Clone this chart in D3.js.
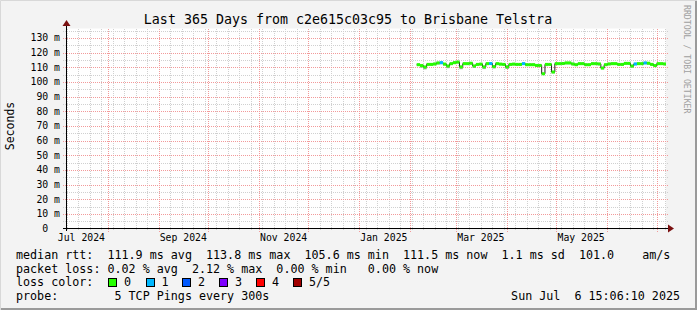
<!DOCTYPE html>
<html><head><meta charset="utf-8">
<script src="https://cdn.jsdelivr.net/npm/d3@7"></script>
<style>
html,body{margin:0;padding:0;background:#f3f3f3;}
text{font-family:"DejaVu Sans Mono",monospace;white-space:pre;}
</style></head>
<body><svg id="c" width="697" height="310"></svg>
<script>
// ---------- data ----------
const titleText = "Last 365 Days from c2e615c03c95 to Brisbane Telstra";
const rangeStart = Date.UTC(2024, 6, 6, 15, 6, 10);
const rangeEnd = Date.UTC(2025, 6, 6, 15, 6, 10);
const dataStart = Date.UTC(2025, 1, 5);
const stepDays = 2;
const medianRtt = [111.8,111.2,110.2,112.0,112.0,112.3,113.0,113.2,112.2,110.9,
 112.5,113.2,113.6,110.3,112.5,112.5,112.8,110.9,112.0,112.2,
 110.3,112.5,112.6,110.5,112.5,112.2,112.0,110.3,112.0,112.2,
 112.0,112.0,112.5,111.8,111.8,111.8,111.3,111.3,105.6,112.0,
 112.0,106.8,112.5,112.5,112.6,113.0,113.0,112.3,111.8,112.5,
 112.5,111.8,111.8,112.5,112.5,112.3,109.5,111.8,112.3,112.5,
 112.5,112.0,112.0,112.7,112.7,110.9,112.3,112.5,112.5,113.0,
 112.8,112.0,111.2,112.5,112.5,112.3];
const smokeLo = [110.9,109.8,108.6,111.1,111.2,111.4,112.0,112.1,111.2,109.4,
 111.6,112.2,112.6,108.7,111.6,111.6,111.9,109.6,111.1,111.3,
 108.8,111.6,111.6,109.2,111.6,111.3,111.1,108.9,111.1,111.3,
 111.1,111.1,111.6,110.9,110.9,110.9,110.4,110.3,104.8,110.8,
 111.1,105.9,111.6,111.6,111.7,112.1,112.1,111.4,110.9,111.6,
 111.6,110.9,110.9,111.6,111.6,111.4,108.7,110.9,111.4,111.6,
 111.6,111.1,111.1,111.8,111.8,109.8,111.4,111.6,111.6,112.1,
 111.9,111.1,110.2,111.6,111.6,111.4];
const smokeHi = [112.6,112.0,111.1,112.8,112.8,113.1,113.8,114.0,113.0,111.7,
 113.3,114.0,114.4,111.1,113.3,113.3,113.6,111.7,112.8,113.0,
 111.1,113.3,113.4,111.3,113.3,113.0,112.8,111.1,112.8,113.0,
 112.8,112.8,113.3,112.6,112.6,112.6,112.1,112.1,106.4,112.8,
 112.8,107.6,113.3,113.3,113.4,113.8,113.8,113.1,112.6,113.3,
 113.3,112.6,112.6,113.3,113.3,113.1,110.3,112.6,113.1,113.3,
 113.3,112.8,112.8,113.5,113.5,111.7,113.1,113.3,113.3,113.8,
 113.6,112.8,112.0,113.3,113.3,113.1];
const lossCount = [0,0,0,0,0,0,0,1,0,0, 0,0,0,0,0,0,0,0,0,0,
 0,0,1,0,0,0,0,0,0,0, 0,0,1,0,0,0,0,0,0,0,
 0,0,0,0,0,0,0,0,0,0, 0,0,0,0,0,0,0,0,0,0,
 0,0,0,0,0,0,1,0,0,1, 0,0,0,0,0,0];
const yTicks = [0,10,20,30,40,50,60,70,80,90,100,110,120,130];
const monthLabels = ["Jul 2024","Sep 2024","Nov 2024","Jan 2025","Mar 2025","May 2025"];
const lossLabels = ["0","1","2","3","4","5/5"];
const lossColors = ["#26ff00","#00b8ff","#0059ff","#7e00ff","#ff0000","#a10000"];
const legendRtt = "median rtt:  111.9 ms avg  113.8 ms max  105.6 ms min  111.5 ms now  1.1 ms sd  101.0    am/s";
const legendLoss = "packet loss: 0.02 % avg  2.12 % max  0.00 % min   0.00 % now";
const legendProbe = "probe:        5 TCP Pings every 300s";
const stampText = "Sun Jul  6 15:06:10 2025";

// ---------- drawing ----------
const svg = d3.select("#c");
const W = 697, H = 310;
const L = 66, R = 666, T = 28.5, B = 228.5;
const x = d3.scaleUtc().domain([rangeStart, rangeEnd]).range([L, R]);
const y = d3.scaleLinear().domain([0, 136.5]).range([B, T]);

svg.append("rect").attr("width", W).attr("height", H).attr("fill", "#f3f3f3");
svg.append("path").attr("d", `M0.5,${H}V0.5H${W}`).attr("stroke", "#d8d8d8").attr("fill", "none");
svg.append("path").attr("d", `M1,${H-1}H${W-1}V1`).attr("stroke", "#9a9a9a").attr("stroke-width", 2).attr("fill", "none");
svg.append("rect").attr("x", L).attr("y", T).attr("width", R - L).attr("height", B - T).attr("fill", "#fff");

const grid = svg.append("g").attr("shape-rendering", "crispEdges");
d3.range(5, 136, 10).forEach(v => {
  grid.append("line").attr("x1", L - 3).attr("x2", R + 2).attr("y1", Math.round(y(v)) + 0.5).attr("y2", Math.round(y(v)) + 0.5)
    .attr("stroke", "#d0d0d0").attr("stroke-dasharray", "1,1");
});
d3.utcSunday.range(new Date(rangeStart), new Date(rangeEnd)).forEach(d => {
  const xx = Math.round(x(d)) + 0.5;
  grid.append("line").attr("x1", xx).attr("x2", xx).attr("y1", T).attr("y2", B + 2)
    .attr("stroke", "#d0d0d0").attr("stroke-dasharray", "1,1");
});
yTicks.filter(v => v > 0).forEach(v => {
  grid.append("line").attr("x1", L - 3).attr("x2", R + 2).attr("y1", Math.round(y(v)) + 0.5).attr("y2", Math.round(y(v)) + 0.5)
    .attr("stroke", "#f29a9a").attr("stroke-dasharray", "1,1");
});
d3.utcMonth.range(new Date(rangeStart), new Date(rangeEnd)).forEach(d => {
  const xx = Math.round(x(d)) + 0.5;
  grid.append("line").attr("x1", xx).attr("x2", xx).attr("y1", T).attr("y2", B + 3)
    .attr("stroke", "#f29a9a").attr("stroke-dasharray", "1,1");
});

// data
const t0 = i => new Date(dataStart + i * stepDays * 86400000);
const t1 = i => new Date(Math.min(dataStart + (i + 1) * stepDays * 86400000, rangeEnd));
const pts = medianRtt.map((v, i) => ({ i, v, lo: smokeLo[i], hi: smokeHi[i], loss: lossCount[i] }));
const dg = svg.append("g");
dg.selectAll("rect.smoke").data(pts).join("rect").attr("class", "smoke")
  .attr("x", d => x(t0(d.i))).attr("width", d => x(t1(d.i)) - x(t0(d.i)))
  .attr("y", d => y(d.hi)).attr("height", d => y(d.lo) - y(d.hi)).attr("fill", "#a8a8a8");
const stepData = pts.concat([{ i: pts.length, v: medianRtt[medianRtt.length - 1] }]);
dg.append("path").datum(stepData)
  .attr("d", d3.line().x(d => x(d.i < pts.length ? t0(d.i) : new Date(rangeEnd))).y(d => y(d.v)).curve(d3.curveStepAfter))
  .attr("fill", "none").attr("stroke", "#202020").attr("stroke-width", 1);
dg.selectAll("rect.med").data(pts).join("rect").attr("class", "med")
  .attr("x", d => x(t0(d.i))).attr("width", d => x(t1(d.i)) - x(t0(d.i)))
  .attr("y", d => y(d.v) - 1.5).attr("height", 3).attr("fill", d => lossColors[d.loss]);

// axes
const ax = svg.append("g").attr("shape-rendering", "crispEdges");
ax.append("line").attr("x1", L + 0.5).attr("x2", L + 0.5).attr("y1", 24).attr("y2", B + 2).attr("stroke", "#000");
ax.append("line").attr("x1", L - 3).attr("x2", R + 3).attr("y1", B).attr("y2", B).attr("stroke", "#000");
svg.append("path").attr("d", `M${L - 3.5},26 L${L + 0.5},20 L${L + 4.5},26 Z`).attr("fill", "#7a1010");
svg.append("path").attr("d", `M${R + 2},${B - 4} L${R + 8},${B} L${R + 2},${B + 4} Z`).attr("fill", "#7a1010");

svg.append("g").selectAll("text").data(yTicks).join("text")
  .attr("x", 60).attr("y", d => y(d)).attr("dy", "0.35em").attr("text-anchor", "end")
  .attr("font-size", 9.8).attr("fill", "#000")
  .text(d => d === 0 ? "0  " : d + " m");

svg.append("g").selectAll("text").data(monthLabels).join("text")
  .attr("x", (d, i) => x(new Date(d3.utcMonth.offset(d3.utcMonth.ceil(new Date(rangeStart)), i * 2 - 1).getTime() + 15 * 86400000)))
  .attr("y", 241).attr("text-anchor", "middle").attr("font-size", 9.8).attr("fill", "#000")
  .text(d => d);

svg.append("text").attr("x", 348).attr("y", 24).attr("text-anchor", "middle").attr("font-size", 13.3).attr("fill", "#000").text(titleText);
svg.append("text").attr("transform", "translate(14,126) rotate(-90)").attr("text-anchor", "middle").attr("font-size", 11.5).attr("fill", "#000").text("Seconds");
svg.append("text").attr("transform", "translate(684,5) rotate(90)").attr("text-anchor", "start").attr("font-size", 8.2).attr("fill", "#a0a0a0").text("RRDTOOL / TOBI OETIKER");

const lg = svg.append("g").attr("font-size", 11.7).attr("fill", "#000");
lg.append("text").attr("x", 16).attr("y", 259).text(legendRtt);
lg.append("text").attr("x", 16).attr("y", 272.5).text(legendLoss);
lg.append("text").attr("x", 16).attr("y", 286).text("loss color:");
lg.append("text").attr("x", 16).attr("y", 299.5).text(legendProbe);
lg.append("text").attr("x", 680).attr("y", 299.5).attr("text-anchor", "end").text(stampText);
const itemX = [108, 145.5, 182, 219, 256, 293];
lossLabels.forEach((lab, i) => {
  lg.append("rect").attr("x", itemX[i] + 0.5).attr("y", 278.5).attr("width", 8).attr("height", 8)
    .attr("fill", lossColors[i]).attr("stroke", "#000").attr("shape-rendering", "crispEdges");
  lg.append("text").attr("x", itemX[i] + 16).attr("y", 286).text(lab);
});
</script></body></html>
